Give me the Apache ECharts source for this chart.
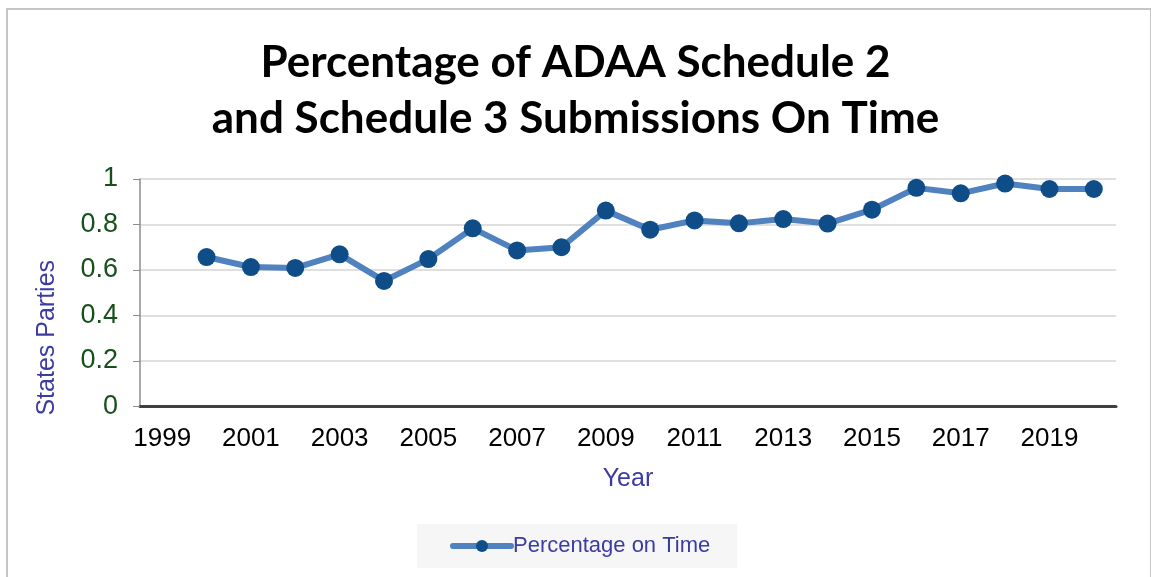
<!DOCTYPE html>
<html>
<head>
<meta charset="utf-8">
<script src="https://cdn.jsdelivr.net/npm/echarts@6/dist/echarts.min.js"></script>
<style>
html, body { margin: 0; padding: 0; background: #fff; }
#chart { width: 1151px; height: 577px; }
#frame { position: absolute; left: 6px; top: 8px; width: 1142px; height: 600px; border: 2px solid #c6c6c6; pointer-events: none; }
</style>
</head>
<body>
<div id="chart"></div>
<div id="frame"></div>
<script>
// years on the x axis (1999 has no value)
var years = ['1999', '2000', '2001', '2002', '2003', '2004', '2005', '2006', '2007', '2008', '2009',
             '2010', '2011', '2012', '2013', '2014', '2015', '2016', '2017', '2018', '2019', '2020'];
// share of States Parties submitting on time
var onTime = [null, 0.657, 0.613, 0.609, 0.669, 0.552, 0.648, 0.783, 0.686, 0.700, 0.861,
              0.777, 0.818, 0.805, 0.824, 0.804, 0.865, 0.961, 0.937, 0.980, 0.956, 0.956];
var seriesName = 'Percentage on Time';
var titleText = 'Percentage of ADAA Schedule 2\nand Schedule 3 Submissions On Time';

var chart = echarts.init(document.getElementById('chart'));

var option = {
    backgroundColor: '#fff',
    animation: false,
    title: {
        text: titleText,
        left: 'center',
        top: 30,
        textStyle: {
            fontFamily: 'Lato',
            fontWeight: 'bold',
            fontSize: 44,
            lineHeight: 56,
            color: '#000'
        }
    },
    grid: { left: 140, right: 35, top: 179, bottom: 170.5 },
    legend: {
        data: [seriesName],
        left: 417,
        top: 524,
        padding: [11, 27, 11, 33],
        backgroundColor: '#f6f6f6',
        itemWidth: 58,
        itemHeight: 15,
        itemGap: 0,
        lineStyle: { width: 6, cap: 'round' },
        textStyle: {
            fontFamily: 'Liberation Sans',
            fontSize: 22,
            color: '#3b3ba3',
            padding: [0, 0, 0, -3]
        }
    },
    xAxis: {
        type: 'category',
        data: years,
        boundaryGap: true,
        name: 'Year',
        nameLocation: 'middle',
        nameGap: 60,
        nameTextStyle: { fontFamily: 'Liberation Sans', fontSize: 25, color: '#3b3ba3' },
        axisLine: { lineStyle: { color: '#404040', width: 3 } },
        axisTick: { show: false },
        axisLabel: {
            interval: 1,
            margin: 19,
            fontFamily: 'Liberation Sans',
            fontSize: 26,
            color: '#000'
        }
    },
    yAxis: {
        type: 'value',
        min: 0,
        max: 1,
        interval: 0.2,
        name: 'States Parties',
        nameLocation: 'middle',
        nameRotate: 90,
        nameGap: 80,
        nameTextStyle: {
            fontFamily: 'Liberation Sans',
            fontSize: 25,
            color: '#3b3ba3',
            padding: [0, 90, 0, 0]
        },
        axisLine: { show: true, lineStyle: { color: '#8c8c8c', width: 1.5 } },
        axisTick: { show: true, length: 7, lineStyle: { color: '#8c8c8c' } },
        splitLine: { lineStyle: { color: '#d4d4d4', width: 1.5 } },
        axisLabel: {
            margin: 22,
            fontFamily: 'Liberation Sans',
            fontSize: 27,
            color: '#17501b'
        }
    },
    series: [{
        name: seriesName,
        type: 'line',
        data: onTime,
        symbol: 'circle',
        symbolSize: 18,
        itemStyle: { color: '#0e4d87' },
        lineStyle: { color: '#4f82bf', width: 6 }
    }]
};

chart.setOption(option);
</script>
</body>
</html>
